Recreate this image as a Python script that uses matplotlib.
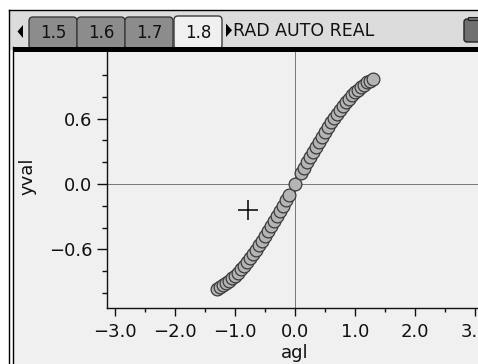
import matplotlib
matplotlib.use("Agg")
import matplotlib.pyplot as plt
from matplotlib.patches import Rectangle, FancyBboxPatch, Polygon

agl = [-1.30, -1.25, -1.20, -1.15, -1.10, -1.05, -1.00, -0.95, -0.90, -0.85,
       -0.80, -0.75, -0.70, -0.65, -0.60, -0.55, -0.50, -0.45, -0.40, -0.35,
       -0.30, -0.25, -0.20, -0.15, -0.10,
       0.0,
       0.10, 0.15, 0.20, 0.25, 0.30, 0.35, 0.40, 0.45, 0.50, 0.55,
       0.60, 0.65, 0.70, 0.75, 0.80, 0.85, 0.90, 0.95, 1.00, 1.05,
       1.10, 1.15, 1.20, 1.25, 1.30]
yval = [-0.964, -0.949, -0.932, -0.913, -0.891, -0.867, -0.841, -0.813, -0.783, -0.751,
        -0.717, -0.682, -0.644, -0.605, -0.565, -0.523, -0.479, -0.435, -0.389, -0.343,
        -0.296, -0.247, -0.199, -0.149, -0.100,
        0.0,
        0.100, 0.149, 0.199, 0.247, 0.296, 0.343, 0.389, 0.435, 0.479, 0.523,
        0.565, 0.605, 0.644, 0.682, 0.717, 0.751, 0.783, 0.813, 0.841, 0.867,
        0.891, 0.913, 0.932, 0.949, 0.964]
cursor_x, cursor_y = -0.78, -0.24

x_major = [-3, -2, -1, 0, 1, 2, 3]
x_labels = ["\u22123.0", "\u22122.0", "\u22121.0", "0.0", "1.0", "2.0", "3.0"]
x_minor = [-2.5, -1.5, -0.5, 0.5, 1.5, 2.5]
y_major = [-0.6, 0.0, 0.6]
y_labels = ["\u22120.6", "0.0", "0.6"]
y_minor = [-1.0, -0.8, -0.4, -0.2, 0.2, 0.4, 0.8, 1.0]
tabs = ["1.5", "1.6", "1.7", "1.8"]
status_text = "RAD AUTO REAL"

W, H = 478, 364
fig = plt.figure(figsize=(W / 100, H / 100), dpi=100)
fig.patch.set_facecolor("white")

# ---- screen chrome (pixel coordinates) ----
bg = fig.add_axes([0, 0, 1, 1], zorder=0)
bg.set_xlim(0, W)
bg.set_ylim(H, 0)
bg.axis("off")

px = 0.72  # one pixel in points
bg.add_patch(Rectangle((9.5, 9.5), W, 40, facecolor="#dcdcdc", edgecolor="none", zorder=1))
bg.add_patch(Rectangle((14, 52), W, H, facecolor="#f0f0f0", edgecolor="none", zorder=1))

tab_x = [29, 77, 125, 174]
tab_w = 48
for i, (tx, lab) in enumerate(zip(tab_x, tabs)):
    active = (i == len(tabs) - 1)
    fc = "#f0f0f0" if active else "#8c8c8c"
    top = 16 if active else 17
    bg.add_patch(FancyBboxPatch((tx, top), tab_w, 49 - top,
                                boxstyle="round,pad=0,rounding_size=4",
                                facecolor=fc, edgecolor="#3a3a3a", lw=1.0, zorder=2))
    bg.text(tx + tab_w / 2, 33, lab, ha="center", va="center", fontsize=12,
            color="#111111", family="DejaVu Sans", zorder=3)

bg.add_patch(Rectangle((13, 47), W, 5, facecolor="black", edgecolor="none", zorder=4))
bg.plot([9.5, W], [9.5, 9.5], color="black", lw=1.4 * px, zorder=5)
bg.plot([9.5, 9.5], [9.5, H], color="black", lw=1.4 * px, zorder=5)
bg.plot([13.5, 13.5], [47, H], color="black", lw=1.4 * px, zorder=5)
bg.add_patch(Rectangle((10.2, 52), 2.6, H, facecolor="white", edgecolor="none", zorder=4))

bg.add_patch(Polygon([(23, 25), (23, 38), (17.5, 31.5)], closed=True,
                     facecolor="black", edgecolor="none", zorder=3))
bg.add_patch(Polygon([(226, 23.5), (226, 37), (232, 30.25)], closed=True,
                     facecolor="black", edgecolor="none", zorder=3))
bg.text(233, 31, status_text, ha="left", va="center", fontsize=12.5,
        color="#111111", family="DejaVu Sans", zorder=3)

bg.add_patch(FancyBboxPatch((464, 19), 20, 23, boxstyle="round,pad=0,rounding_size=3",
                            facecolor="#707070", edgecolor="#222222", lw=1.0, zorder=3))
bg.add_patch(Rectangle((468, 16.5), 12, 3, facecolor="#707070", edgecolor="#222222",
                       lw=0.8, zorder=3))

# ---- graph ----
ax_l, ax_r, ax_t, ax_b = 107, 478, 52, 308
ax = fig.add_axes([ax_l / W, (H - ax_b) / H, (ax_r - ax_l) / W, (ax_b - ax_t) / H], zorder=2)
ax.set_facecolor("none")
ax.set_xlim(-3.133, 3.05)
ax.set_ylim(-1.139, 1.212)

for s in ["top", "right"]:
    ax.spines[s].set_visible(False)
for s in ["left", "bottom"]:
    ax.spines[s].set_color("#111111")
    ax.spines[s].set_linewidth(1.0)

ax.axhline(0, color="#7a7a7a", lw=1.0 * px, zorder=1)
ax.axvline(0, color="#7a7a7a", lw=1.0 * px, zorder=1)

ax.plot(agl, yval, linestyle="none", marker="o", markersize=9.2,
        markerfacecolor="#b4b4b4", markeredgecolor="#3a3a3a", markeredgewidth=0.9, zorder=3)
ax.plot([cursor_x], [cursor_y], marker="+", markersize=14, markeredgewidth=1.1,
        color="black", linestyle="none", zorder=4)

ax.set_xticks(x_major)
ax.set_xticklabels(x_labels)
ax.set_xticks(x_minor, minor=True)
ax.set_yticks(y_major)
ax.set_yticklabels(y_labels)
ax.set_yticks(y_minor, minor=True)

ax.tick_params(axis="x", which="major", direction="out", length=5.8, width=1.0,
               pad=5, labelsize=13, colors="#111111")
ax.tick_params(axis="x", which="minor", direction="out", length=3.2, width=1.0, colors="#111111")
ax.tick_params(axis="y", which="major", direction="out", length=7.2, width=1.0,
               pad=3.5, labelsize=13, colors="#111111")
ax.tick_params(axis="y", which="minor", direction="out", length=3.6, width=1.0, colors="#111111")

ax.set_xlabel("agl", fontsize=13, color="#111111")
ax.set_ylabel("yval", fontsize=13, color="#111111")
ax.xaxis.set_label_coords((295 - ax_l) / (ax_r - ax_l), (ax_b - 344) / (ax_b - ax_t))
ax.yaxis.set_label_coords((37 - ax_l) / (ax_r - ax_l), (ax_b - 176) / (ax_b - ax_t))

fig.savefig("out.png", dpi=100)
